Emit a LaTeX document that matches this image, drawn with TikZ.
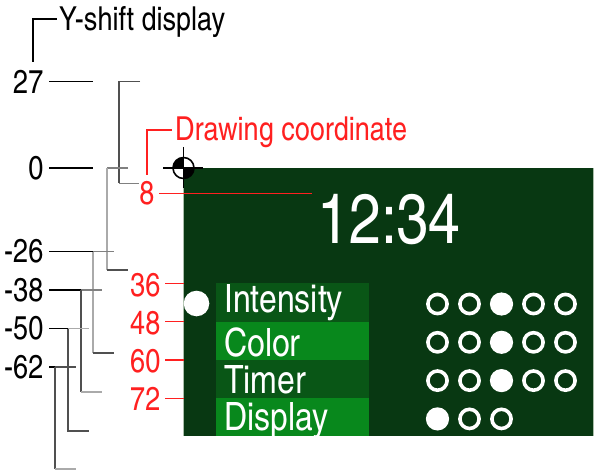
\documentclass[tikz,border=0pt]{standalone}
\usepackage{fontspec}
\setmainfont{texgyreheroscn-regular.otf}
\definecolor{panelg}{RGB}{8,56,18}
\definecolor{rowdark}{RGB}{9,86,22}
\definecolor{rowlight}{RGB}{8,136,28}
\definecolor{redc}{RGB}{255,32,32}
\definecolor{gdark}{RGB}{80,80,80}
\definecolor{gmid}{RGB}{128,128,128}
\definecolor{glight}{RGB}{170,170,170}
\definecolor{edgec}{RGB}{170,190,170}
\begin{document}
\begin{tikzpicture}[x=1pt,y=-1pt,
 lbl/.style={inner sep=0pt,font=\fontsize{33}{33}\selectfont},
 redlbl/.style={lbl,text=redc},
 tick/.style={line width=1.5pt,black},
 redtick/.style={line width=1.4pt,redc},
 br/.style={line width=1.1pt},
 menu/.style={inner sep=0pt,anchor=base west,text=white,font=\fontsize{39}{39}\selectfont},
 ring/.style={draw=white,line width=3.6pt},
 rowd/.style={fill=rowdark},
 rowl/.style={fill=rowlight}]
\useasboundingbox (0,0) rectangle (600,476);

% ---- panel ----
\fill[panelg] (183.5,168) rectangle (593,436);
\draw[edgec,line width=0.8pt] (183.5,168) -- (183.5,436);
\draw[edgec,line width=0.8pt] (593,168) -- (593,436);
\fill[rowd] (216,283.3) rectangle (369.3,321.7);
\fill[rowl] (216,321.7) rectangle (369.3,360);
\fill[rowd] (216,360) rectangle (369.3,398.3);
\fill[rowl] (216,398.3) rectangle (369.3,436);

\node[inner sep=0pt,anchor=base,text=white,font=\fontsize{70}{70}\selectfont] (clock) at (389,243.3) {12:34};

\begin{scope}
\clip (183.5,168) rectangle (593,436);
\node[menu] (mi) at (224,312.7) {Intensity};
\node[menu] (mc) at (224,356) {Color};
\node[menu] (mt) at (224,393.3) {Timer};
\node[menu] (md) at (224,430) {Display};
\end{scope}

\fill[white] (196.5,303.5) circle[radius=12.8];

% dots
\foreach \r/\f in {304/3,342.3/3,380.6/3}{
  \foreach \k in {1,...,5}{
    \ifnum\k=\f
      \fill[white] ({437.5+32*(\k-1)},\r) circle[radius=11.6];
    \else
      \draw[ring] ({437.5+32*(\k-1)},\r) circle[radius=9.6];
    \fi
  }
}
\fill[white] (437.5,418.9) circle[radius=11.6];
\draw[ring] (469.5,418.9) circle[radius=9.6];
\draw[ring] (501.5,418.9) circle[radius=9.6];

% ---- title ----
\node[lbl,anchor=base west] (title) at (59,31) {Y-shift display};
\coordinate (tA) at (33,62);
\coordinate (tB) at (57,19);
\draw[line width=1.5pt] (tA) |- (tB);

% ---- left black labels ----
\node[lbl,anchor=east] (l27) at (43.5,81.5) {27};
\node[lbl,anchor=east] (l0) at (43.5,168) {0};
\node[lbl,anchor=east] (lm26) at (43.5,251.5) {-26};
\node[lbl,anchor=east] (lm38) at (43.5,290) {-38};
\node[lbl,anchor=east] (lm50) at (43.5,328.5) {-50};
\node[lbl,anchor=east] (lm62) at (43.5,367) {-62};

\coordinate (k27) at (93,81.5);
\coordinate (k0) at (93,168);
\coordinate (k26) at (93,251.5);
\coordinate (k38) at (81,290);
\coordinate (k50) at (68,328.5);
\coordinate (k62) at (55,367);
\draw[tick] ([xshift=5.5pt]l27.east) -- (k27);
\draw[tick] ([xshift=5.5pt]l0.east) -- (k0);
\draw[tick] ([xshift=5.5pt]lm26.east) -- (k26);
\draw[tick] ([xshift=5.5pt]lm38.east) -- (k38);
\draw[tick] ([xshift=5.5pt]lm50.east) -- (k50);
\draw[tick] ([xshift=5.5pt]lm62.east) -- (k62);

% ---- gray brackets ----
% 27 -> 8
\coordinate (b1a) at (140,81.5);
\coordinate (b1b) at (119,81.5);
\coordinate (b1c) at (119,183.5);
\coordinate (b1d) at (139,183.5);
\draw[br,gdark] (b1a) -- (b1b) -- (b1c);
\draw[br,gmid] (b1c) -- (b1d);
% 0 -> 36
\coordinate (b2a) at (128,168);
\coordinate (b2b) at (107,168);
\coordinate (b2c) at (107,270);
\coordinate (b2d) at (128,270);
\draw[br,gmid] (b2a) -- (b2b);
\draw[br,glight] (b2b) -- (b2c);
\draw[br,gdark] (b2c) -- (b2d);
% -26
\coordinate (b3a) at (114,251.5);
\coordinate (b3c) at (93,353);
\coordinate (b3d) at (114,353);
\draw[br,gmid] (k26) -- (b3a);
\draw[br,glight] (k26) -- (b3c);
\draw[br,gdark] (b3c) -- (b3d);
% -38
\coordinate (b4a) at (102,290);
\coordinate (b4c) at (81,392);
\coordinate (b4d) at (102,392);
\draw[br,gmid] (k38) -- (b4a);
\draw[br,gdark] (k38) -- (b4c);
\draw[br,glight] (b4c) -- (b4d);
% -50
\coordinate (b5a) at (89,328.5);
\coordinate (b5c) at (68,431);
\coordinate (b5d) at (89,431);
\draw[br,glight] (k50) -- (b5a);
\draw[br,gdark] (k50) -- (b5c) -- (b5d);
% -62
\coordinate (b6a) at (76,367);
\coordinate (b6c) at (55,469);
\coordinate (b6d) at (76,469);
\draw[br,gdark] (k62) -- (b6a);
\draw[br,gdark] (k62) -- (b6c);
\draw[br,glight] (b6c) -- (b6d);

% ---- red labels ----
\node[redlbl,anchor=base west] (dc) at (175,141) {Drawing coordinate};
\coordinate (rA) at (147,175);
\coordinate (rB) at (172,130);
\draw[redc,line width=1.5pt] (rA) |- (rB);

\node[redlbl] (r8) at (147,193.5) {8};
\node[redlbl,anchor=east] (r36) at (160.5,285) {36};
\node[redlbl,anchor=east] (r48) at (160.5,323) {48};
\node[redlbl,anchor=east] (r60) at (160.5,361.5) {60};
\node[redlbl,anchor=east] (r72) at (160.5,399) {72};

\coordinate (red8) at (312,193.3);
\draw[redtick] ([xshift=4.5pt]r8.east |- red8) -- (red8);
\coordinate (p36) at (183.5,283.3);
\coordinate (p48) at (183.5,321.7);
\coordinate (p60) at (183.5,360);
\coordinate (p72) at (183.5,398.3);
\draw[redtick] (165,283.3) -- (p36);
\draw[redtick] (165,321.7) -- (p48);
\draw[redtick] (165,360) -- (p60);
\draw[redtick] (165,398.3) -- (p72);

% ---- crosshair ----
\coordinate (cc) at (183.5,168);
\fill[white] (cc) circle[radius=10.5];
\fill[black] (cc) -- ++(-10.5,0) arc[start angle=180,end angle=270,radius=10.5] -- cycle;
\fill[black] (cc) -- ++(10.5,0) arc[start angle=0,end angle=90,radius=10.5] -- cycle;
\draw[black,line width=1.6pt] (cc) circle[radius=10.5];
\draw[black,line width=1.6pt] (163,168) -- (203,168);
\draw[black,line width=1.6pt] (183.5,147) -- (183.5,188);
\end{tikzpicture}
\end{document}
